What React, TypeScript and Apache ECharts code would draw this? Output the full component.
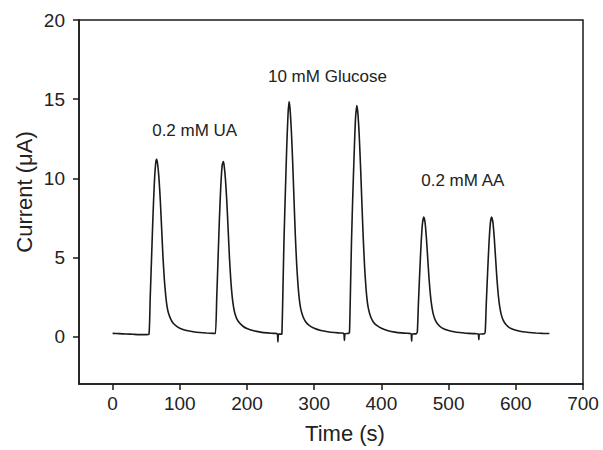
import React, { useEffect, useRef } from "react";
import * as echarts from "echarts";

// Time (s), Current (μA)
const timeS: number[] = [
  0, 10, 20, 30, 40, 50, 54, 56, 58, 60, 62, 64, 65.5, 67, 69, 71, 73, 75, 77, 79, 81, 83, 86, 90, 95, 100, 110, 120, 130, 140, 150, 153,
  155, 157, 159, 161, 163, 164.7, 166, 168, 170, 172, 174, 176, 178, 180, 182, 185, 189, 194, 200, 210, 220, 230, 240, 245, 246, 247, 251,
  252, 253.5, 255, 257, 259, 261, 262.6, 264, 266, 268, 270, 272, 274, 276, 278, 280, 283, 287, 292, 300, 310, 320, 330, 340, 344, 345, 346, 351,
  352.5, 354, 355.5, 357.5, 359.5, 361.5, 363.5, 365, 367, 369, 371, 373, 375, 377, 379, 381, 384, 388, 393, 400, 410, 420, 430, 440, 444, 445, 446, 452,
  453.5, 455, 457, 459, 461, 463, 465, 467, 469, 471, 473, 475, 477, 480, 484, 490, 500, 510, 520, 530, 540, 544, 545, 546, 553,
  554.5, 556, 558, 560, 562, 563.8, 566, 568, 570, 572, 574, 576, 578, 581, 585, 591, 600, 610, 620, 630, 640, 650,
];
const currentUA: number[] = [
  0.2, 0.18, 0.16, 0.14, 0.12, 0.12, 0.13, 2.5, 5.0, 7.5, 9.6, 10.9, 11.2, 10.9, 10.0, 8.6, 6.8, 5.0, 3.6, 2.6, 1.9, 1.5, 1.15, 0.85, 0.65, 0.52, 0.38, 0.3, 0.25, 0.22, 0.2, 0.19,
  2.5, 5.0, 7.5, 9.5, 10.8, 11.05, 10.8, 9.9, 8.5, 6.7, 4.9, 3.5, 2.5, 1.85, 1.45, 1.1, 0.85, 0.65, 0.5, 0.36, 0.28, 0.23, 0.2, 0.18, -0.35, 0.15, 0.15,
  0.2, 3, 6, 9, 11.8, 14, 14.85, 14.4, 13, 11, 8.6, 6.3, 4.5, 3.2, 2.3, 1.75, 1.3, 0.95, 0.72, 0.52, 0.38, 0.3, 0.25, 0.22, 0.2, -0.25, 0.18, 0.2,
  0.25, 3, 6, 9, 11.6, 13.8, 14.6, 14.1, 12.7, 10.7, 8.4, 6.2, 4.4, 3.1, 2.2, 1.7, 1.25, 0.92, 0.7, 0.52, 0.37, 0.28, 0.23, 0.2, 0.19, -0.3, 0.15, 0.18,
  0.3, 2, 4, 5.8, 7.1, 7.55, 7.2, 6.2, 4.9, 3.6, 2.6, 1.9, 1.45, 1.05, 0.78, 0.55, 0.38, 0.29, 0.24, 0.2, 0.18, 0.17, -0.2, 0.15, 0.17,
  0.3, 2, 4, 5.8, 7.1, 7.55, 7.2, 6.2, 4.9, 3.6, 2.6, 1.9, 1.45, 1.05, 0.78, 0.55, 0.4, 0.3, 0.25, 0.22, 0.2, 0.19,
];

const xTicks: number[] = [0, 100, 200, 300, 400, 500, 600, 700];
const yTicks: number[] = [0, 5, 10, 15, 20];
const annotations: string[] = ["0.2 mM UA", "10 mM Glucose", "0.2 mM AA"];
const xTitle = "Time (s)";
const yTitle = "Current (μA)";

const FONT = "'Liberation Sans', Arial, sans-serif";

export default function App() {
  const ref = useRef<HTMLDivElement>(null);
  useEffect(() => {
    if (!ref.current) return;
    document.body.style.margin = "0";
    const chart = echarts.init(ref.current, undefined, { renderer: "svg" });
    const data = timeS.map((t, i) => [t, currentUA[i]]);
    chart.setOption({
      animation: false,
      backgroundColor: "#ffffff",
      grid: {
        left: 79,
        right: 20,
        top: 20,
        bottom: 66,
        show: true,
        borderColor: "#1a1a1a",
        borderWidth: 1.5,
      },
      xAxis: {
        type: "value",
        min: -50,
        max: 700,
        splitLine: { show: false },
        axisLine: { show: true, onZero: false, lineStyle: { color: "#1a1a1a", width: 1.5 } },
        axisTick: { show: true, inside: false, length: 6, customValues: xTicks, lineStyle: { color: "#1a1a1a", width: 1.5 } },
        axisLabel: { customValues: xTicks, margin: 10, color: "#222", fontSize: 19, fontFamily: FONT },
      },
      yAxis: {
        type: "value",
        min: -3,
        max: 20,
        splitLine: { show: false },
        axisLine: { show: true, onZero: false, lineStyle: { color: "#1a1a1a", width: 1.5 } },
        axisTick: { show: true, inside: false, length: 6, customValues: yTicks, lineStyle: { color: "#1a1a1a", width: 1.5 } },
        axisLabel: { customValues: yTicks, margin: 14, color: "#222", fontSize: 19, fontFamily: FONT },
      },
      series: [
        {
          type: "line",
          data,
          showSymbol: false,
          smooth: 0.2,
          lineStyle: { color: "#1a1a1a", width: 1.6 },
        },
      ],
      graphic: [
        { type: "text", x: 194.7, y: 130, style: { text: annotations[0], fill: "#222", font: `17px ${FONT}`, textAlign: "center", textVerticalAlign: "middle" } },
        { type: "text", x: 327.5, y: 76.5, style: { text: annotations[1], fill: "#222", font: `17px ${FONT}`, textAlign: "center", textVerticalAlign: "middle" } },
        { type: "text", x: 462.8, y: 180, style: { text: annotations[2], fill: "#222", font: `17px ${FONT}`, textAlign: "center", textVerticalAlign: "middle" } },
        { type: "text", x: 345, y: 433, style: { text: xTitle, fill: "#222", font: `22px ${FONT}`, textAlign: "center", textVerticalAlign: "middle" } },
        { type: "text", x: 24, y: 192, rotation: Math.PI / 2, style: { text: yTitle, fill: "#222", font: `22px ${FONT}`, textAlign: "center", textVerticalAlign: "middle" } },
      ],
    });
    return () => chart.dispose();
  }, []);
  return <div ref={ref} style={{ width: 603, height: 450 }} />;
}
